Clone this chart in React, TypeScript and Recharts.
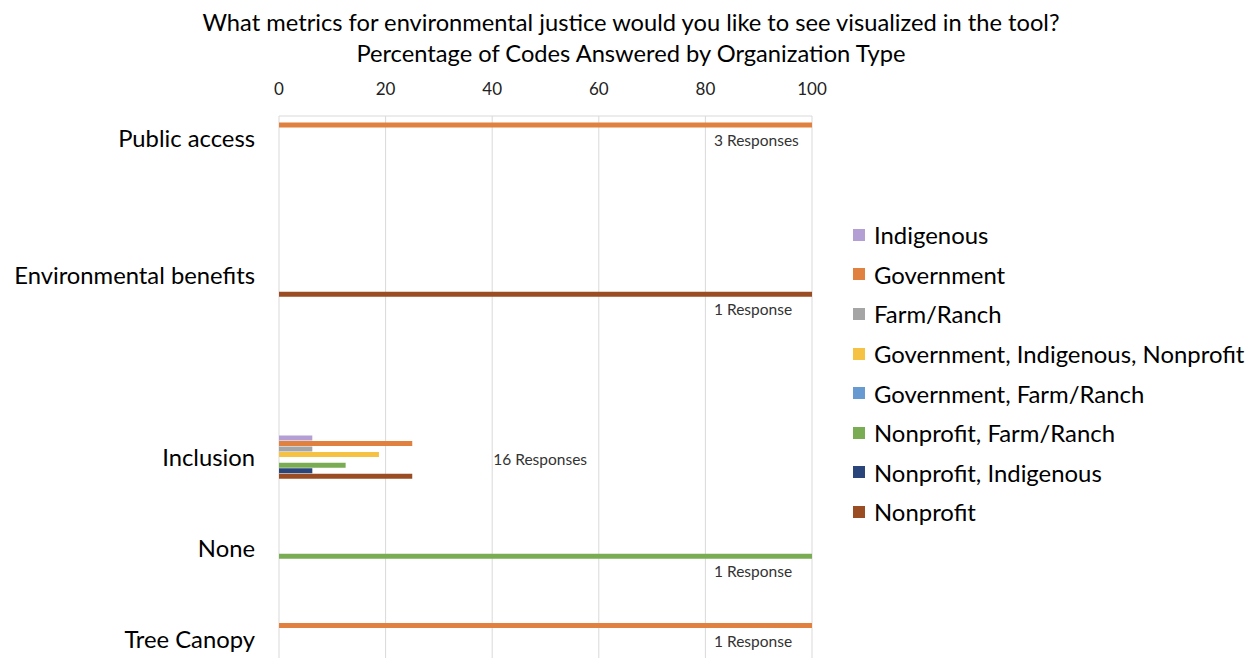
import React from "react";
import { BarChart, Bar, XAxis, YAxis, CartesianGrid, Legend, LabelList } from "recharts";

// Categories (top to bottom) and the response count note shown for each
const categories = ["Public access", "Environmental benefits", "Inclusion", "None", "Tree Canopy"];
const responseNotes = ["3 Responses", "1 Response", "16 Responses", "1 Response", "1 Response"];

// Organization types
const seriesNames = [
  "Indigenous",
  "Government",
  "Farm/Ranch",
  "Government, Indigenous, Nonprofit",
  "Government, Farm/Ranch",
  "Nonprofit, Farm/Ranch",
  "Nonprofit, Indigenous",
  "Nonprofit",
];
const seriesColors = ["#b39fd3", "#e0813f", "#a5a5a5", "#f5c243", "#689ad2", "#79ac53", "#294579", "#9a4d22"];

// Percentage of codes per category, one array per organization type
const indigenous = [0, 0, 6.25, 0, 0];
const government = [100, 0, 25, 0, 100];
const farmRanch = [0, 0, 6.25, 0, 0];
const govIndigenousNonprofit = [0, 0, 18.75, 0, 0];
const govFarmRanch = [0, 0, 0, 0, 0];
const nonprofitFarmRanch = [0, 0, 12.5, 100, 0];
const nonprofitIndigenous = [0, 0, 6.25, 0, 0];
const nonprofit = [0, 100, 25, 0, 0];

const xTicks = [0, 20, 40, 60, 80, 100];

const seriesValues = [
  indigenous,
  government,
  farmRanch,
  govIndigenousNonprofit,
  govFarmRanch,
  nonprofitFarmRanch,
  nonprofitIndigenous,
  nonprofit,
];

// The category axis is split into equal slots; categories occupy some of them
const CATEGORY_SLOTS = [0, 3, 7, 9, 11];
const SLOT_COUNT = 12;

// Chart geometry
const CHART_W = 1260;
const MARGIN = { top: 86, right: 448, bottom: 2, left: 0 };
const Y_AXIS_W = 279;
const PLOT_LEFT = MARGIN.left + Y_AXIS_W;
const PLOT_RIGHT = CHART_W - MARGIN.right;
const PLOT_W = PLOT_RIGHT - PLOT_LEFT;

const rows = Array.from({ length: SLOT_COUNT }, (_, slot) => {
  const ci = CATEGORY_SLOTS.indexOf(slot);
  const row: Record<string, any> = { slot, label: ci >= 0 ? categories[ci] : "" };
  seriesValues.forEach((vals, si) => {
    row[`s${si}`] = ci >= 0 ? vals[ci] : 0;
  });
  if (ci >= 0) {
    const vals = seriesValues.map((v) => v[ci]);
    const max = Math.max(...vals);
    const noteSeries = vals.indexOf(max);
    // the note rides on the longest bar of the category
    row[`note${noteSeries}`] = { text: responseNotes[ci], full: max >= 100 };
  }
  return row;
});

const FONT = "Lato, 'Open Sans', sans-serif";

const noteContent = (props: any) => {
  const note = props.value;
  if (!note || typeof note !== "object" || !note.text) return null;
  const vb = props.viewBox && props.viewBox.height !== undefined ? props.viewBox : props;
  const y = Number(vb.y);
  const h = Number(vb.height);
  const ty = y + h / 2 + 15;
  const tx = note.full ? PLOT_RIGHT - 98 : PLOT_LEFT + 0.49 * PLOT_W;
  return (
    <text
      x={tx}
      y={ty}
      textAnchor={note.full ? "start" : "middle"}
      dominantBaseline="central"
      fontFamily={FONT}
      fontSize={15.5}
      fill="#333"
    >
      {note.text}
    </text>
  );
};

const LegendList = () => (
  <div style={{ fontFamily: FONT, fontSize: 23.9, color: "#000" }}>
    {seriesNames.map((name, i) => (
      <div key={name} style={{ display: "flex", alignItems: "center", height: 39.6, whiteSpace: "nowrap" }}>
        <span style={{ width: 12, height: 12, background: seriesColors[i], marginRight: 9, flex: "none" }} />
        <span>{name}</span>
      </div>
    ))}
  </div>
);

const titleStyle: React.CSSProperties = {
  position: "absolute",
  left: 0,
  width: 1262,
  textAlign: "center",
  fontSize: 23.7,
  lineHeight: "30px",
  color: "#000",
  whiteSpace: "nowrap",
};

export default function App() {
  return (
    <div
      style={{
        position: "absolute",
        left: 0,
        top: 0,
        width: 1260,
        height: 658,
        overflow: "hidden",
        background: "#fff",
        fontFamily: FONT,
      }}
    >
      <div style={{ ...titleStyle, top: 7 }}>
        What metrics for environmental justice would you like to see visualized in the tool?
      </div>
      <div style={{ ...titleStyle, top: 38 }}>Percentage of Codes Answered by Organization Type</div>
      <BarChart
        width={CHART_W}
        height={664}
        data={rows}
        layout="vertical"
        margin={MARGIN}
        barCategoryGap={1.1}
        barGap={0.44}
      >
        <CartesianGrid horizontal={false} stroke="#d9d9d9" />
        <XAxis
          type="number"
          orientation="top"
          domain={[0, 100]}
          ticks={xTicks}
          height={30}
          tickLine={false}
          tickSize={0}
          tickMargin={21}
          axisLine={{ stroke: "#d9d9d9" }}
          tick={{ fontFamily: FONT, fontSize: 17, fill: "#222" }}
          interval={0}
        />
        <YAxis
          type="category"
          dataKey="slot"
          width={Y_AXIS_W}
          interval={0}
          axisLine={false}
          tickLine={false}
          tickSize={0}
          tickMargin={24}
          tickFormatter={(v: any) => rows[Number(v)]?.label ?? ""}
          tick={{ fontFamily: FONT, fontSize: 23.8, fill: "#000" }}
        />
        {seriesNames.map((name, si) => (
          <Bar key={name} dataKey={`s${si}`} name={name} fill={seriesColors[si]} isAnimationActive={false}>
            <LabelList dataKey={`note${si}`} content={noteContent} />
          </Bar>
        ))}
        <Legend
          layout="vertical"
          align="center"
          verticalAlign="middle"
          wrapperStyle={{ position: "absolute", left: 853, top: 215, width: 405 }}
          content={() => <LegendList />}
        />
      </BarChart>
    </div>
  );
}
